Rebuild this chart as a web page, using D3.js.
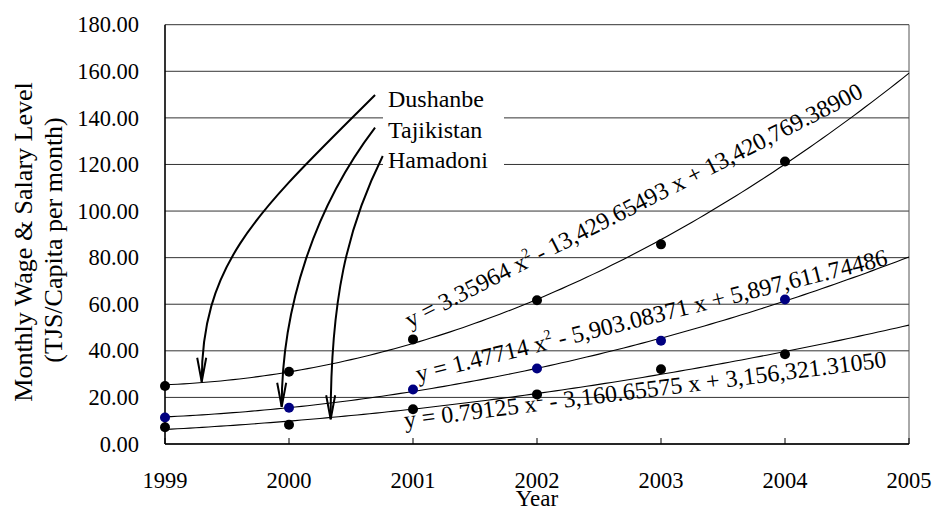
<!DOCTYPE html>
<html>
<head>
<meta charset="utf-8">
<script src="https://cdn.jsdelivr.net/npm/d3@7"></script>
<style>
  html, body { margin: 0; padding: 0; background: #fff; }
  svg { display: block; }
  text { font-family: "Liberation Serif", "Times New Roman", serif; fill: #000; }
</style>
</head>
<body>
<svg id="chart" width="935" height="506"></svg>
<script>
// Monthly wage & salary level (TJS per capita per month), 1999–2004
const years = [1999, 2000, 2001, 2002, 2003, 2004];
const dushanbe = [24.9, 31.0, 44.9, 61.7, 85.7, 121.3];
const tajikistan = [11.4, 15.6, 23.4, 32.4, 44.3, 62.0];
const hamadoni = [7.2, 8.3, 14.9, 21.3, 32.1, 38.5];

const seriesNames = ["Dushanbe", "Tajikistan", "Hamadoni"];
const seriesColors = ["#000000", "#000080", "#000000"];
const equations = [
  ["y = 3.35964 x", " - 13,429.65493 x + 13,420,769.38900"],
  ["y = 1.47714 x", " - 5,903.08371 x + 5,897,611.74486"],
  ["y = 0.79125 x", " - 3,160.65575 x + 3,156,321.31050"]
];
const yTicks = [0, 20, 40, 60, 80, 100, 120, 140, 160, 180];
const xTicks = [1999, 2000, 2001, 2002, 2003, 2004, 2005];

const svg = d3.select("#chart");
const x = d3.scaleLinear().domain([1999, 2005]).range([165, 909]);
const y = d3.scaleLinear().domain([0, 180]).range([444, 24.7]);

// Least-squares quadratic fit (in years since 1999)
function quadFit(xs, ys) {
  const t = xs.map(v => v - 1999);
  const S = k => d3.sum(t, v => Math.pow(v, k));
  const T = k => d3.sum(t, (v, i) => Math.pow(v, k) * ys[i]);
  const A = [[S(4), S(3), S(2), T(2)], [S(3), S(2), S(1), T(1)], [S(2), S(1), S(0), T(0)]];
  for (let c = 0; c < 3; c++) {
    for (let r = c + 1; r < 3; r++) {
      const f = A[r][c] / A[c][c];
      for (let k = c; k < 4; k++) A[r][k] -= f * A[c][k];
    }
  }
  const sol = [0, 0, 0];
  for (let r = 2; r >= 0; r--) {
    let s = A[r][3];
    for (let k = r + 1; k < 3; k++) s -= A[r][k] * sol[k];
    sol[r] = s / A[r][r];
  }
  return yr => { const u = yr - 1999; return sol[0] * u * u + sol[1] * u + sol[2]; };
}

// Gridlines
svg.append("g").selectAll("line").data(yTicks).join("line")
  .attr("x1", x(1999)).attr("x2", x(2005))
  .attr("y1", d => y(d)).attr("y2", d => y(d))
  .attr("stroke", "#333").attr("stroke-width", 1);
svg.append("line")
  .attr("x1", x(2005)).attr("x2", x(2005)).attr("y1", y(0)).attr("y2", y(180))
  .attr("stroke", "#555").attr("stroke-width", 1);

// Y tick labels
svg.append("g").selectAll("text").data(yTicks).join("text")
  .attr("x", 139).attr("y", d => y(d)).attr("dy", "0.34em")
  .attr("text-anchor", "end").attr("font-size", 22.5)
  .text(d3.format(".2f"));

// X ticks and labels
svg.append("g").selectAll("line").data(xTicks).join("line")
  .attr("x1", d => x(d)).attr("x2", d => x(d)).attr("y1", y(0)).attr("y2", y(0) - 6)
  .attr("stroke", "#000").attr("stroke-width", 1);
svg.append("g").selectAll("text").data(xTicks).join("text")
  .attr("x", d => x(d)).attr("y", 487.5)
  .attr("text-anchor", "middle").attr("font-size", 22.5)
  .text(d => d);

// Axis lines
svg.append("line").attr("x1", x(1999)).attr("x2", x(1999)).attr("y1", y(0)).attr("y2", y(180))
  .attr("stroke", "#000").attr("stroke-width", 1.6);
svg.append("line").attr("x1", x(1999)).attr("x2", x(2005)).attr("y1", y(0)).attr("y2", y(0))
  .attr("stroke", "#000").attr("stroke-width", 1.6);

// Trendlines and points
const allSeries = [dushanbe, tajikistan, hamadoni];
const fineYears = d3.range(1999, 2005.0001, 0.05);
allSeries.forEach(vals => {
  const f = quadFit(years, vals);
  svg.append("path")
    .attr("d", d3.line().x(d => x(d)).y(d => y(f(d)))(fineYears))
    .attr("fill", "none").attr("stroke", "#000").attr("stroke-width", 1.1);
});
allSeries.forEach((vals, i) => {
  svg.append("g").selectAll("circle").data(vals).join("circle")
    .attr("cx", (d, j) => x(years[j])).attr("cy", d => y(d)).attr("r", 5)
    .attr("fill", seriesColors[i]);
});

// Trendline equations
const eqAnchors = [
  { yr: 2000.976, v: 49.7, angle: -27 },
  { yr: 2001.04, v: 26.6, angle: -14 },
  { yr: 2000.935, v: 6.9, angle: -7.2 }
];
equations.forEach((eq, i) => {
  const a = eqAnchors[i];
  const t = svg.append("text")
    .attr("transform", `translate(${x(a.yr)},${y(a.v)}) rotate(${a.angle})`)
    .attr("font-size", 24);
  t.append("tspan").text(eq[0]);
  t.append("tspan").attr("font-size", 14).attr("dy", -10).text("2");
  t.append("tspan").attr("dy", 10).text(eq[1]);
});

// Series labels with arrows pointing to each curve
svg.append("rect").attr("x", 383).attr("y", 88).attr("width", 121).attr("height", 92).attr("fill", "#fff");
const labelBaselines = [107, 137.5, 168];
svg.append("g").selectAll("text").data(seriesNames).join("text")
  .attr("x", 388).attr("y", (d, i) => labelBaselines[i])
  .attr("font-size", 24).text(d => d);

// Cubic Bézier control points, in (year, value) units
const arrowCurves = [
  [[2000.694, 149.82], [1999.766, 100.45], [1999.296, 78.99], [1999.296, 26.74]],
  [[2000.694, 135.78], [2000.210, 101.87], [1999.941, 58.94], [1999.941, 16.01]],
  [[2000.756, 123.63], [2000.468, 92.73], [2000.336, 62.12], [2000.336, 10.60]]
];
arrowCurves.forEach(c => {
  const p = c.map(d => [x(d[0]), y(d[1])]);
  const path = d3.path();
  path.moveTo(p[0][0], p[0][1]);
  path.bezierCurveTo(p[1][0], p[1][1], p[2][0], p[2][1], p[3][0], p[3][1]);
  svg.append("path").attr("d", path.toString())
    .attr("fill", "none").attr("stroke", "#000").attr("stroke-width", 2);
  // open arrowhead along the end tangent
  const ang = Math.atan2(p[3][1] - p[2][1], p[3][0] - p[2][0]) * 180 / Math.PI;
  svg.append("path")
    .attr("transform", `translate(${p[3][0]},${p[3][1]}) rotate(${ang})`)
    .attr("d", "M-24,-4.5 L0,0 L-24,4.5")
    .attr("fill", "none").attr("stroke", "#000").attr("stroke-width", 2);
});

// Axis titles
svg.append("text").attr("transform", "translate(32,242) rotate(-90)")
  .attr("text-anchor", "middle").attr("font-size", 26).text("Monthly Wage & Salary Level");
svg.append("text").attr("transform", "translate(62,240) rotate(-90)")
  .attr("text-anchor", "middle").attr("font-size", 26).text("(TJS/Capita per month)");
svg.append("text").attr("x", 537).attr("y", 506)
  .attr("text-anchor", "middle").attr("font-size", 23).text("Year");
</script>
</body>
</html>
